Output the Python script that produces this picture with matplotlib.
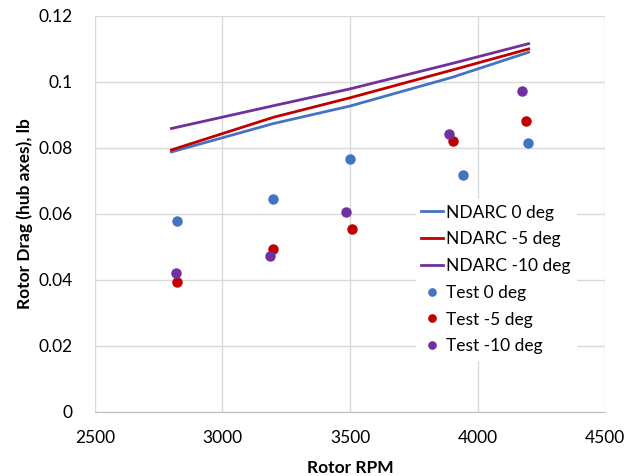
import matplotlib
matplotlib.use("Agg")
import matplotlib.pyplot as plt

plt.rcParams['font.family'] = ['Lato', 'DejaVu Sans']

# NDARC predictions
ndarc_rpm = [2800, 3200, 3500, 3900, 4200]
ndarc_0 = [0.0788, 0.0874, 0.0927, 0.1014, 0.1090]
ndarc_m5 = [0.0794, 0.0893, 0.0952, 0.1036, 0.1100]
ndarc_m10 = [0.0859, 0.0928, 0.0979, 0.1056, 0.1116]

# Test data
test0_rpm = [2822, 3199, 3500, 3943, 4197]
test0 = [0.0578, 0.0645, 0.0768, 0.0719, 0.0815]
testm5_rpm = [2822, 3200, 3509, 3905, 4191]
testm5 = [0.0395, 0.0495, 0.0555, 0.0821, 0.0881]
testm10_rpm = [2818, 3187, 3483, 3888, 4176]
testm10 = [0.0422, 0.0472, 0.0605, 0.0842, 0.0973]

xticks = [2500, 3000, 3500, 4000, 4500]
yticks = [0, 0.02, 0.04, 0.06, 0.08, 0.1, 0.12]
yticklabels = ['0', '0.02', '0.04', '0.06', '0.08', '0.1', '0.12']

blue = '#4472C4'
red = '#C00000'
purple = '#7030A0'

fig = plt.figure(figsize=(6.37, 4.76), dpi=100)
ax = fig.add_axes([0.149, 0.1345, 0.801, 0.832])

ax.plot(ndarc_rpm, ndarc_0, color=blue, lw=2, label='NDARC 0 deg')
ax.plot(ndarc_rpm, ndarc_m5, color=red, lw=2, label='NDARC -5 deg')
ax.plot(ndarc_rpm, ndarc_m10, color=purple, lw=2, label='NDARC -10 deg')
ax.plot(test0_rpm, test0, 'o', color=blue, ms=6.5, label='Test 0 deg')
ax.plot(testm5_rpm, testm5, 'o', color=red, ms=6.5, label='Test -5 deg')
ax.plot(testm10_rpm, testm10, 'o', color=purple, ms=6.5, label='Test -10 deg')

ax.set_xlim(2500, 4500)
ax.set_ylim(0, 0.12)
ax.set_xticks(xticks)
ax.set_yticks(yticks)
ax.set_yticklabels(yticklabels)
ax.grid(True, color='#d9d9d9', lw=1)
ax.set_axisbelow(True)
for s in ['top', 'right', 'left']:
    ax.spines[s].set_visible(False)
ax.spines['bottom'].set_color('#bfbfbf')
ax.tick_params(length=0, labelsize=12.5, colors='black')
ax.tick_params(axis='x', pad=13)
ax.tick_params(axis='y', pad=16)

ax.set_xlabel('Rotor RPM', fontsize=12.5, fontweight='bold', labelpad=10)
ax.set_ylabel('Rotor Drag (hub axes), lb', fontsize=12.5, fontweight='bold', labelpad=4)

leg = ax.legend(loc='upper left', bbox_to_anchor=(0.629, 0.537), frameon=True,
                fontsize=12.5, handlelength=1.26, handletextpad=0.17,
                labelspacing=0.62, borderpad=0.3, borderaxespad=0, fancybox=False,
                markerscale=0.8)
leg.get_frame().set_edgecolor('white')
leg.get_frame().set_facecolor('white')
leg.get_frame().set_alpha(1)

fig.savefig('out.png', dpi=100)
